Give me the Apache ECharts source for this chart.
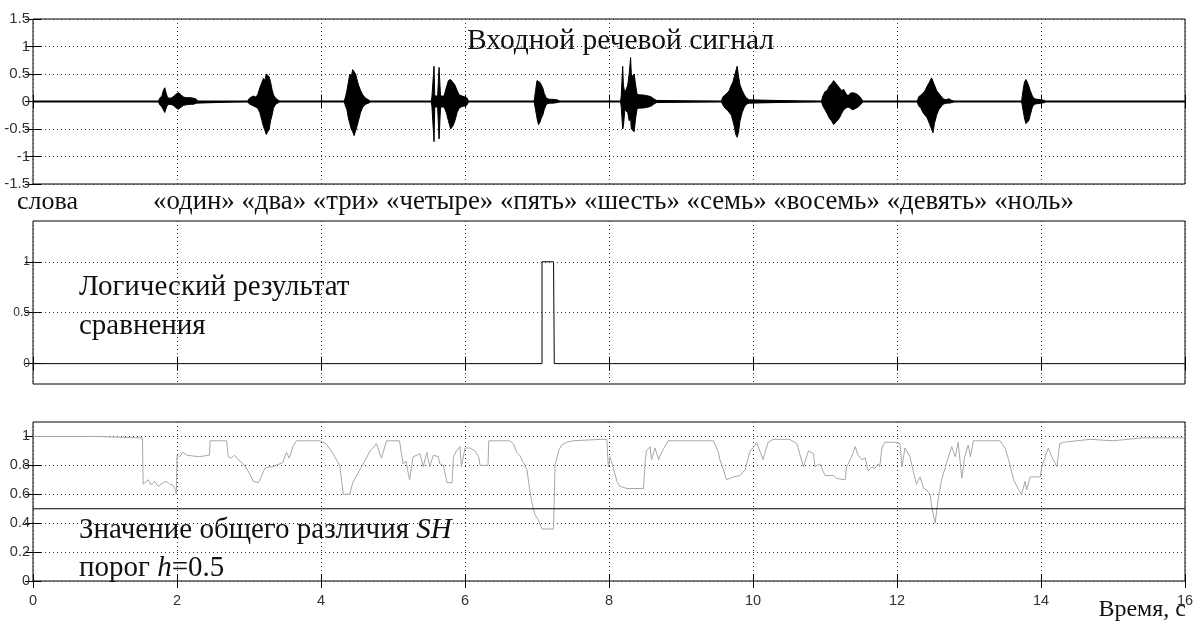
<!DOCTYPE html>
<html><head><meta charset="utf-8">
<script src="https://cdn.jsdelivr.net/npm/echarts@6/dist/echarts.min.js"></script>
<style>html,body{margin:0;padding:0;background:#fff}#c{width:1203px;height:624px}</style>
</head><body><div id="c"></div>
<script>
// ---- data ----
const xTicks = [0, 2, 4, 6, 8, 10, 12, 14, 16];
const topYTicks = [-1.5, -1, -0.5, 0, 0.5, 1, 1.5];
const midYTicks = [0, 0.5, 1];
const botYTicks = [0, 0.2, 0.4, 0.6, 0.8, 1];
const wordLabel = 'слова';
const words = ['«один»', '«два»', '«три»', '«четыре»', '«пять»', '«шесть»', '«семь»', '«восемь»', '«девять»', '«ноль»'];

// speech signal envelope (time s, upper, lower)
const sigT = [
  1.74,1.76,1.79,1.81,1.83,1.85,1.87,1.90,1.93,1.96,1.99,2.02,2.04,2.06,2.09,2.13,2.18,2.23,2.27,2.29,
  2.98,3.00,3.03,3.06,3.09,3.12,3.15,3.18,3.20,3.22,3.24,3.26,3.28,3.30,3.32,3.34,3.37,3.40,3.43,
  4.32,4.34,4.36,4.38,4.40,4.42,4.44,4.46,4.48,4.50,4.52,4.55,4.58,4.62,4.66,4.69,
  5.53,5.54,5.56,5.57,5.58,5.60,5.62,5.64,5.65,5.66,5.68,5.71,5.74,5.77,5.80,5.83,5.86,5.89,5.92,5.96,6.00,6.03,6.05,
  6.96,6.98,7.00,7.02,7.04,7.06,7.08,7.10,7.13,7.17,7.22,7.28,7.32,
  8.16,8.17,8.19,8.20,8.22,8.24,8.26,8.28,8.30,8.31,8.33,8.35,8.37,8.39,8.43,8.47,8.51,8.55,8.59,8.62,8.66,8.68,
  9.56,9.58,9.61,9.64,9.67,9.70,9.72,9.74,9.76,9.78,9.80,9.82,9.85,9.88,9.91,9.95,9.97,
  10.95,10.97,11.00,11.03,11.06,11.09,11.12,11.14,11.17,11.20,11.23,11.26,11.29,11.32,11.35,11.38,11.42,11.46,11.50,11.53,
  12.28,12.30,12.33,12.36,12.39,12.42,12.45,12.48,12.50,12.52,12.55,12.58,12.61,12.64,12.68,12.72,12.76,12.80,
  13.73,13.75,13.77,13.79,13.81,13.83,13.85,13.88,13.91,13.95,14.00,14.05,14.07
];
const sigUp = [
  0,.06,.1,.2,.25,.15,.07,.06,.07,.1,.14,.16,.17,.12,.08,.07,.07,.06,.04,0,
  0,.05,.08,.1,.08,.12,.25,.35,.42,.38,.5,.53,.45,.35,.22,.12,.06,.03,0,
  0,.08,.2,.35,.5,.45,.58,.6,.5,.4,.3,.2,.12,.06,.03,0,
  0,.08,.1,.64,.1,.09,.1,.62,.6,.1,.09,.1,.25,.38,.4,.35,.3,.2,.12,.1,.08,.06,0,
  0,.2,.38,.4,.35,.3,.25,.15,.06,.04,.04,.03,0,
  0,.1,.64,.3,.15,.12,.3,.5,.8,.5,.45,.5,.3,.13,.12,.12,.11,.1,.08,.05,.02,0,
  0,.08,.12,.15,.2,.3,.35,.45,.55,.64,.45,.3,.2,.12,.06,.03,0,
  0,.1,.18,.2,.28,.32,.38,.4,.3,.25,.2,.22,.15,.1,.15,.16,.15,.12,.06,0,
  0,.08,.12,.15,.2,.28,.35,.43,.4,.3,.2,.15,.1,.05,.03,.05,.02,0,
  0,.2,.35,.4,.35,.28,.2,.1,.05,.04,.03,.02,0
];
const sigLo = [
  0,-.06,-.1,-.15,-.2,-.12,-.06,-.05,-.06,-.08,-.12,-.14,-.12,-.1,-.07,-.06,-.05,-.05,-.03,0,
  0,-.04,-.06,-.08,-.1,-.12,-.2,-.35,-.45,-.52,-.6,-.55,-.5,-.35,-.25,-.12,-.05,-.03,0,
  0,-.08,-.15,-.3,-.4,-.5,-.55,-.62,-.63,-.45,-.35,-.2,-.1,-.05,-.03,0,
  0,-.08,-.1,-.73,-.1,-.09,-.1,-.68,-.7,-.1,-.09,-.1,-.2,-.35,-.5,-.45,-.35,-.2,-.12,-.09,-.08,-.06,0,
  0,-.15,-.3,-.42,-.38,-.3,-.25,-.15,-.05,-.03,-.03,-.02,0,
  0,-.1,-.5,-.45,-.15,-.12,-.2,-.35,-.3,-.5,-.52,-.55,-.3,-.13,-.12,-.12,-.11,-.1,-.08,-.05,-.02,0,
  0,-.06,-.12,-.15,-.2,-.25,-.35,-.45,-.6,-.65,-.55,-.35,-.2,-.1,-.05,-.03,0,
  0,-.08,-.15,-.22,-.3,-.35,-.42,-.45,-.35,-.3,-.22,-.15,-.12,-.1,-.12,-.15,-.13,-.1,-.05,0,
  0,-.08,-.12,-.2,-.25,-.3,-.4,-.5,-.57,-.4,-.25,-.15,-.1,-.05,-.03,-.03,-.02,0,
  0,-.15,-.3,-.4,-.42,-.35,-.25,-.1,-.05,-.04,-.03,-.02,0
];
const baseT = [0, 16];
const baseV = [0, 0];

// logical comparison result
const logicT = [0, 7.07, 7.07, 7.23, 7.24, 16];
const logicV = [0, 0, 1, 1, 0, 0];

// total difference SH
const shT = [0,0.85,0.87,1.52,1.53,1.55,1.60,1.64,1.69,1.74,1.81,1.85,1.90,1.94,1.98,1.99,2.00,2.04,2.08,2.11,2.14,2.30,2.45,2.46,2.69,2.71,2.75,2.80,2.85,2.92,2.99,3.06,3.13,3.17,3.22,3.29,3.33,3.47,3.52,3.56,3.61,3.66,3.98,4.03,4.07,4.14,4.19,4.26,4.31,4.40,4.44,4.55,4.63,4.68,4.72,4.77,4.84,4.91,5.09,5.14,5.18,5.23,5.28,5.33,
  5.375,5.42,5.47,5.51,5.56,5.63,5.65,5.70,5.75,5.82,5.84,5.88,5.93,5.95,6.00,6.07,6.14,6.19,6.21,6.32,6.33,6.62,6.67,6.72,6.76,6.81,6.86,6.90,6.93,6.97,7.02,7.07,7.23,7.25,7.30,7.34,7.41,7.50,7.88,7.97,7.99,8.01,8.05,8.11,8.15,8.25,8.48,8.50,8.52,8.57,8.59,8.64,8.69,8.71,8.82,9.45,9.52,9.54,9.59,9.63,9.73,9.82,9.89,9.96,10.00,10.05,10.14,10.21,10.28,10.51,10.61,
  10.70,10.77,10.84,10.86,10.93,11.00,11.12,11.16,11.28,11.30,11.37,11.42,11.46,11.51,11.56,11.60,11.65,11.69,11.74,11.76,11.79,11.83,11.97,12.04,12.07,12.11,12.18,12.23,12.27,12.32,12.37,12.41,12.46,12.48,12.53,12.55,12.57,12.62,12.69,12.76,12.81,12.85,12.90,12.94,12.99,13.02,13.06,13.43,13.50,13.55,13.62,13.69,13.73,13.78,13.80,13.85,13.99,14.01,14.06,14.10,14.15,14.22,14.26,14.31,14.50,14.68,15.00,15.40,16.00];
const shV = [1.0,1.0,0.99,0.99,0.67,0.665,0.70,0.665,0.69,0.655,0.68,0.69,0.67,0.665,0.63,0.60,0.87,0.86,0.89,0.88,0.87,0.86,0.87,0.97,0.97,0.86,0.85,0.87,0.84,0.81,0.76,0.69,0.68,0.72,0.78,0.79,0.79,0.82,0.89,0.85,0.93,0.97,0.97,0.96,0.95,0.90,0.86,0.80,0.60,0.60,0.68,0.78,0.85,0.90,0.92,0.95,0.85,0.97,0.97,0.81,0.83,0.70,0.86,0.87,
  0.88,0.79,0.89,0.79,0.87,0.86,0.81,0.80,0.68,0.68,0.86,0.90,0.93,0.79,0.92,0.92,0.90,0.86,0.80,0.80,0.97,0.97,0.95,0.89,0.87,0.82,0.77,0.63,0.54,0.46,0.42,0.36,0.36,0.80,0.90,0.94,0.96,0.97,0.98,0.98,0.79,0.86,0.80,0.69,0.655,0.64,0.64,0.81,0.90,0.93,0.84,0.92,0.84,0.87,0.97,0.97,0.89,0.84,0.77,0.70,0.72,0.73,0.77,0.90,0.92,0.96,0.84,0.96,0.98,0.98,0.95,
  0.79,0.90,0.88,0.79,0.81,0.73,0.73,0.71,0.70,0.79,0.86,0.93,0.87,0.84,0.85,0.76,0.79,0.78,0.81,0.79,0.92,0.96,0.96,0.95,0.79,0.92,0.86,0.75,0.67,0.72,0.64,0.63,0.60,0.52,0.40,0.48,0.56,0.70,0.82,0.93,0.86,0.96,0.71,0.86,0.94,0.86,0.97,0.97,0.92,0.84,0.70,0.63,0.60,0.69,0.63,0.72,0.72,0.79,0.86,0.92,0.86,0.79,0.95,0.96,0.97,0.98,0.97,0.99,0.99];
const thrT = [0, 16];
const thrV = [0.5, 0.5];

// ---- chart ----
const zip = (a, b) => a.map((t, i) => [t, b[i]]);
const L = 33, W = 1152;
const grids = [
  {left: L, top: 19, width: W, height: 165},
  {left: L, top: 221, width: W, height: 163},
  {left: L, top: 422, width: W, height: 159}
];
const yRanges = [[-1.5, 1.5, 0.5, topYTicks, 15], [-0.2, 1.4, null, midYTicks, 12], [0, 1.1, 0.2, botYTicks, 14.5]];
const gridLine = {show: true, lineStyle: {color: '#333', width: 1, type: [1, 3]}};
const narrow = "'Liberation Sans Narrow','Liberation Sans',sans-serif";

const xAxis = [], yAxis = [];
grids.forEach((g, i) => {
  xAxis.push({type: 'value', gridIndex: i, min: 0, max: 16, interval: 2, position: 'bottom',
    axisLine: {show: false}, axisTick: {show: true, inside: true, length: 7, lineStyle: {color: '#000'}},
    axisLabel: i === 2 ? {show: true, margin: 12, customValues: xTicks, fontFamily: narrow, fontSize: 14.5, color: '#333'} : {show: false},
    splitLine: gridLine});
  xAxis.push({type: 'value', gridIndex: i, min: 0, max: 16, interval: 2, position: 'top',
    axisLine: {show: false}, axisTick: {show: true, inside: true, length: 7, lineStyle: {color: '#000'}},
    axisLabel: {show: false}, splitLine: {show: false}});
  const r = yRanges[i];
  const base = {type: 'value', gridIndex: i, min: r[0], max: r[1], axisLine: {show: false}};
  if (r[2]) base.interval = r[2];
  yAxis.push(Object.assign({}, base, {position: 'left',
    axisTick: {show: true, inside: true, length: 8, customValues: r[3], lineStyle: {color: '#000'}},
    axisLabel: {show: true, margin: 3, customValues: r[3], fontSize: r[4], fontFamily: narrow, color: '#333'},
    splitLine: i === 1 ? {show: false} : gridLine}));
  yAxis.push(Object.assign({}, base, {position: 'right',
    axisTick: {show: true, inside: true, length: 8, customValues: r[3], lineStyle: {color: '#000'}},
    axisLabel: {show: false}, splitLine: {show: false}}));
});

const dotted = {color: '#333', width: 1, type: [1, 3]};
const series = [
  {type: 'line', xAxisIndex: 0, yAxisIndex: 0, data: zip(baseT, baseV), symbol: 'none', lineStyle: {color: '#000', width: 2}, silent: true},
  {type: 'line', xAxisIndex: 0, yAxisIndex: 0, data: zip(sigT, sigUp), symbol: 'none', lineStyle: {color: '#000', width: 1}, areaStyle: {color: '#000', opacity: 1}, silent: true},
  {type: 'line', xAxisIndex: 0, yAxisIndex: 0, data: zip(sigT, sigLo), symbol: 'none', lineStyle: {color: '#000', width: 1}, areaStyle: {color: '#000', opacity: 1}, silent: true},
  {type: 'line', xAxisIndex: 2, yAxisIndex: 2, data: zip(logicT, logicV), symbol: 'none', lineStyle: {color: '#000', width: 1}, silent: true,
    markLine: {silent: true, symbol: 'none', label: {show: false}, lineStyle: dotted, data: [{yAxis: 0.5}, {yAxis: 1}]}},
  {type: 'line', xAxisIndex: 4, yAxisIndex: 4, data: zip(shT, shV), symbol: 'none', lineStyle: {color: '#a8a8a8', width: 1}, silent: true},
  {type: 'line', xAxisIndex: 4, yAxisIndex: 4, data: zip(thrT, thrV), symbol: 'none', lineStyle: {color: '#000', width: 1.2}, silent: true}
];

const serif = "'Liberation Serif','DejaVu Serif',serif";
const txt = (x, y, text, size, extra) => ({type: 'text', x: x, y: y, z: 100,
  style: Object.assign({text: text, font: size + 'px ' + serif, fill: '#111', verticalAlign: 'middle', align: 'left',
    rich: {i: {fontStyle: 'italic', fontSize: size, fontFamily: serif, fill: '#111'}}}, extra || {})});

const chart = echarts.init(document.getElementById('c'), null, {renderer: 'canvas'});
chart.setOption({
  backgroundColor: '#fff',
  animation: false,
  grid: grids.map(g => Object.assign({show: true, borderColor: '#000', borderWidth: 1, backgroundColor: 'transparent'}, g)),
  xAxis: xAxis,
  yAxis: yAxis,
  series: series,
  graphic: [
    txt(467, 41, 'Входной речевой сигнал', 29.5),
    txt(17, 202, wordLabel, 26),
    txt(153, 202, words.join(' '), 26.8),
    txt(79, 287, 'Логический результат', 29),
    txt(79, 326, 'сравнения', 29),
    txt(79, 530, 'Значение общего различия {i|SH}', 29),
    txt(79, 568, 'порог {i|h}=0.5', 29),
    txt(1186, 610, 'Время, с', 24, {align: 'right'})
  ]
});
</script></body></html>
